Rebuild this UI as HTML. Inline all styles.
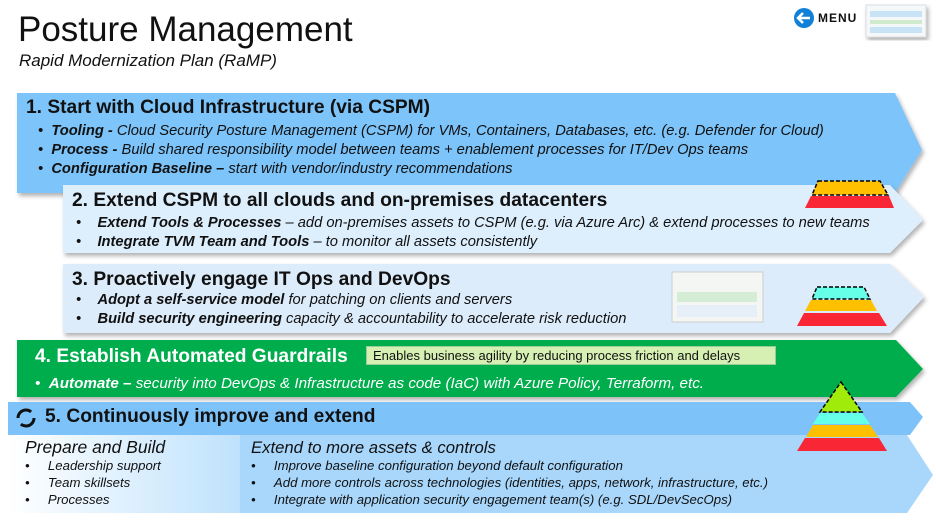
<!DOCTYPE html>
<html><head><meta charset="utf-8"><style>
body{margin:0;width:936px;height:523px;background:#fff;position:relative;overflow:hidden;font-family:"Liberation Sans",sans-serif;color:#111}
.t{position:absolute;white-space:nowrap}
.h{font-weight:bold;font-size:19.2px}
.b{font-size:14.7px;font-style:italic}
.b b{font-weight:bold}
.s{font-size:13.2px;font-style:italic}
</style></head><body>
<svg width="936" height="523" style="position:absolute;left:0;top:0">
<defs>
<linearGradient id="g" x1="0" x2="1"><stop offset="0" stop-color="#fff"/><stop offset="1" stop-color="#bfe2fc"/></linearGradient>
<filter id="s"><feDropShadow dx="2" dy="3" stdDeviation="2" flood-opacity="0.3"/></filter>
</defs>
<polygon points="17,93 895,93 922,150 895,193 17,193" fill="#7cc4fa" filter="url(#s)"/>
<polygon points="63,185 890,185 923,220 890,253 63,253" fill="#ddeefd" filter="url(#s)"/>
<polygon points="63,264 890,264 924,297 890,333 63,333" fill="#ddecfb" filter="url(#s)"/>
<polygon points="17,340 896,340 923,369 896,397 17,397" fill="#00ad4e" filter="url(#s)"/>
<polygon points="8,402 910,402 923,417 910,435 8,435" fill="#7dc3fa"/>
<polygon points="240,435 907,435 933,475 907,513 240,513" fill="#a8d7fb"/>
<rect x="8" y="435" width="232" height="78" fill="url(#g)"/>
<polygon points="818,181 880,181 888,195 812,195" fill="#ffc000" stroke="#000" stroke-width="1.5" stroke-dasharray="4,2"/>
<polygon points="811,196 889,196 894,208 805,208" fill="#f92636"/>
<polygon points="817,287 864,287 870,299 812,299" fill="#66ffe8" stroke="#000" stroke-width="1.5" stroke-dasharray="4,2"/>
<polygon points="811,300 871,300 877,311 805,311" fill="#ffc000"/>
<polygon points="804,313 879,313 887,326 797,326" fill="#f92636"/>
<polygon points="841,382 862,412 820,412" fill="#a0eb0a" stroke="#000" stroke-width="1.5" stroke-dasharray="4,2"/>
<polygon points="820,413 862,413 870,424 813,424" fill="#66ffe8"/>
<polygon points="813,425 870,425 878,437 806,437" fill="#ffc000"/>
<polygon points="805,438 879,438 887,451 797,451" fill="#f92636"/>
<rect x="672" y="272" width="91" height="50" fill="#f4f6f4" stroke="#ccc"/>
<rect x="677" y="292" width="80" height="10" fill="#d5ecd5"/>
<rect x="677" y="305" width="80" height="12" fill="#e6eef8"/>
<circle cx="26" cy="418" r="8" fill="none" stroke="#111" stroke-width="3" stroke-dasharray="18,7"/>
<circle cx="804" cy="18" r="10" fill="#1080d8"/>
<path d="M798,18 H810 M803,13 L798,18 L803,23" stroke="#fff" stroke-width="2.5" fill="none"/>
<rect x="866" y="5" width="60" height="32" fill="#f4f8fb" stroke="#ddd" filter="url(#s)"/>
<rect x="870" y="11" width="52" height="6" fill="#c8e3f6"/><rect x="870" y="20" width="52" height="4" fill="#cfeacc"/><rect x="870" y="27" width="52" height="6" fill="#c8e3f6"/>
</svg>
<div class="t" style="left:18px;top:10px;font-size:35px">Posture Management</div>
<div class="t" style="left:19px;top:51px;font-size:17px;font-style:italic">Rapid Modernization Plan (RaMP)</div>
<div class="t" style="left:818px;top:11px;font-size:12px;font-weight:bold;letter-spacing:1px">MENU</div>

<div class="t h" style="left:26px;top:97px">1. Start with Cloud Infrastructure (via CSPM)</div>
<div class="t b" style="left:38px;top:123px">• &nbsp;<b>Tooling -</b> Cloud Security Posture Management (CSPM) for VMs, Containers, Databases, etc. (e.g. Defender for Cloud)</div>
<div class="t b" style="left:38px;top:142px">• &nbsp;<b>Process -</b> Build shared responsibility model between teams + enablement processes for IT/Dev Ops teams</div>
<div class="t b" style="left:38px;top:161px">• &nbsp;<b>Configuration Baseline –</b> start with vendor/industry recommendations</div>

<div class="t h" style="left:72px;top:190px">2. Extend CSPM to all clouds and on-premises datacenters</div>
<div class="t b" style="left:76px;top:215px">• &nbsp;&nbsp;&nbsp;<b>Extend Tools &amp; Processes</b> – add on-premises assets to CSPM (e.g. via Azure Arc) &amp; extend processes to new teams</div>
<div class="t b" style="left:76px;top:234px">• &nbsp;&nbsp;&nbsp;<b>Integrate TVM Team and Tools</b> – to monitor all assets consistently</div>

<div class="t h" style="left:72px;top:269px">3. Proactively engage IT Ops and DevOps</div>
<div class="t b" style="left:76px;top:292px">• &nbsp;&nbsp;&nbsp;<b>Adopt a self-service model</b> for patching on clients and servers</div>
<div class="t b" style="left:76px;top:311px">• &nbsp;&nbsp;&nbsp;<b>Build security engineering</b> capacity &amp; accountability to accelerate risk reduction</div>

<div class="t h" style="left:35px;top:346px;color:#fff">4. Establish Automated Guardrails</div>
<div class="t" style="left:366px;top:346px;height:19px;width:410px;background:#d6f0b4;border:1px solid #9c9;font-size:13px;padding-left:6px;line-height:17px;box-sizing:border-box">Enables business agility by reducing process friction and delays</div>
<div class="t b" style="left:35px;top:375px;color:#fff;font-size:15.2px">• &nbsp;<b>Automate –</b> security into DevOps &amp; Infrastructure as code (IaC) with Azure Policy, Terraform, etc.</div>

<div class="t h" style="left:45px;top:406px">5. Continuously improve and extend</div>
<div class="t" style="left:25px;top:437px;font-size:17.5px;font-style:italic">Prepare and Build</div>
<div class="t s" style="left:25px;top:458px">• &nbsp;&nbsp;&nbsp;&nbsp;Leadership support</div>
<div class="t s" style="left:25px;top:475px">• &nbsp;&nbsp;&nbsp;&nbsp;Team skillsets</div>
<div class="t s" style="left:25px;top:492px">• &nbsp;&nbsp;&nbsp;&nbsp;Processes</div>
<div class="t" style="left:251px;top:438px;font-size:16.7px;font-style:italic">Extend to more assets &amp; controls</div>
<div class="t s" style="left:251px;top:458px">• &nbsp;&nbsp;&nbsp;&nbsp;Improve baseline configuration beyond default configuration</div>
<div class="t s" style="left:251px;top:475px">• &nbsp;&nbsp;&nbsp;&nbsp;Add more controls across technologies (identities, apps, network, infrastructure, etc.)</div>
<div class="t s" style="left:251px;top:492px">• &nbsp;&nbsp;&nbsp;&nbsp;Integrate with application security engagement team(s) (e.g. SDL/DevSecOps)</div>
</body></html>
